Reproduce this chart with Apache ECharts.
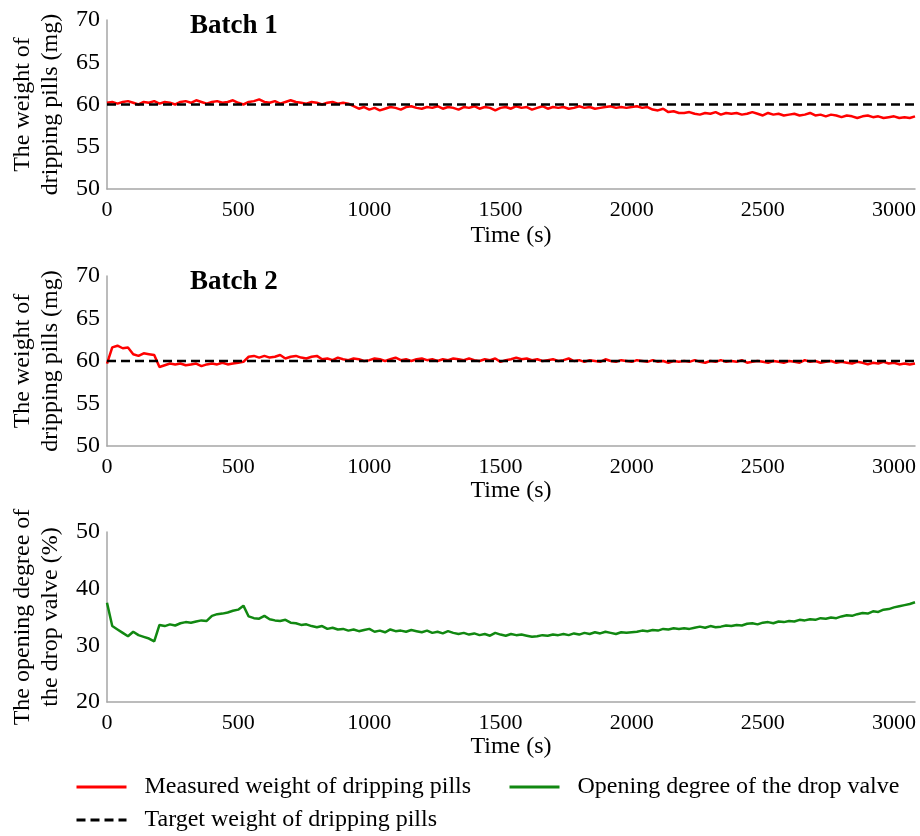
<!DOCTYPE html>
<html>
<head>
<meta charset="utf-8">
<script src="https://cdn.jsdelivr.net/npm/echarts@6/dist/echarts.min.js"></script>
<style>
html,body{margin:0;padding:0;background:#fff;}
#c{width:920px;height:836px;}
</style>
</head>
<body>
<div id="c"></div>
<script>
// sample times (s), every 20 s from 0 to 3080
const TIME_STEP = 20;
const N_SAMPLES = 155;
const TIME = Array.from({length: N_SAMPLES}, (_, i) => i * TIME_STEP);

const TARGET_WEIGHT = 60;

// Batch 1 measured weight (mg)
const BATCH1 = [
  60.2,60.3,60.1,60.3,60.4,60.2,60.0,60.3,60.2,60.4,
  60.1,60.3,60.2,60.0,60.3,60.4,60.2,60.5,60.3,60.1,
  60.3,60.4,60.2,60.3,60.5,60.2,60.0,60.3,60.4,60.6,
  60.3,60.2,60.4,60.1,60.3,60.5,60.3,60.2,60.1,60.3,
  60.2,60.0,60.2,60.3,60.1,60.2,60.1,59.8,59.5,59.7,
  59.4,59.6,59.3,59.5,59.7,59.6,59.4,59.7,59.8,59.6,
  59.5,59.7,59.6,59.8,59.5,59.7,59.6,59.4,59.7,59.6,
  59.8,59.5,59.7,59.6,59.3,59.6,59.7,59.5,59.8,59.6,
  59.7,59.4,59.6,59.8,59.5,59.7,59.6,59.7,59.5,59.6,
  59.8,59.6,59.7,59.5,59.6,59.7,59.8,59.6,59.7,59.6,
  59.7,59.8,59.6,59.7,59.4,59.3,59.5,59.1,59.2,59.0,
  59.0,59.1,58.9,58.8,59.0,58.9,59.1,58.8,59.0,58.9,
  59.0,58.8,58.9,59.1,58.9,58.7,59.0,58.8,58.9,58.7,
  58.8,58.9,58.7,58.8,59.0,58.7,58.8,58.6,58.8,58.7,
  58.5,58.7,58.6,58.4,58.6,58.7,58.5,58.6,58.4,58.5,
  58.6,58.4,58.5,58.4,58.6
];

// Batch 2 measured weight (mg)
const BATCH2 = [
  59.7,61.6,61.8,61.5,61.6,60.8,60.6,60.9,60.8,60.7,
  59.3,59.5,59.7,59.6,59.7,59.5,59.6,59.7,59.4,59.6,
  59.7,59.6,59.8,59.6,59.7,59.8,59.9,60.5,60.6,60.4,
  60.6,60.4,60.5,60.7,60.3,60.5,60.6,60.4,60.3,60.5,
  60.6,60.2,60.3,60.1,60.4,60.2,60.1,60.3,60.2,60.0,
  60.1,60.3,60.2,60.0,60.2,60.4,60.1,60.2,60.0,60.2,
  60.3,60.1,60.2,60.0,60.2,60.1,60.3,60.2,60.1,60.3,
  60.1,60.0,60.2,60.1,60.3,59.9,60.1,60.2,60.4,60.2,
  60.3,60.1,60.2,60.0,60.1,60.2,60.0,60.1,60.3,60.0,
  60.1,59.9,60.1,60.0,59.9,60.2,60.0,59.9,60.1,60.0,
  59.9,60.1,60.0,59.9,60.1,59.9,60.0,59.8,60.0,59.9,
  60.0,59.9,60.1,59.9,59.8,60.0,59.9,60.1,59.9,60.0,
  59.9,60.1,59.8,59.9,60.0,59.9,59.8,60.0,59.9,59.8,
  60.0,59.9,59.8,60.1,59.9,60.0,59.8,59.9,60.0,59.8,
  59.9,59.8,59.7,59.9,59.8,59.6,59.8,59.7,59.9,59.7,
  59.8,59.6,59.7,59.6,59.7
];

// Opening degree of the drop valve (%)
const VALVE = [
  37.5,33.4,32.8,32.2,31.6,32.4,31.8,31.5,31.2,30.7,
  33.6,33.4,33.7,33.5,33.9,34.1,34.0,34.2,34.4,34.3,
  35.2,35.5,35.6,35.8,36.1,36.3,37.0,35.1,34.8,34.7,
  35.2,34.6,34.4,34.3,34.5,34.0,33.9,33.6,33.7,33.4,
  33.2,33.4,32.9,33.1,32.8,32.9,32.6,32.8,32.5,32.7,
  32.9,32.4,32.6,32.3,32.8,32.5,32.6,32.4,32.7,32.5,
  32.3,32.6,32.2,32.4,32.1,32.5,32.2,32.0,32.2,31.9,
  32.1,31.8,32.0,31.7,32.2,31.9,31.7,32.0,31.8,31.9,
  31.7,31.5,31.6,31.8,31.7,31.9,31.8,32.0,31.8,32.1,
  31.9,32.2,32.0,32.3,32.1,32.4,32.2,32.0,32.3,32.2,
  32.3,32.4,32.6,32.5,32.7,32.6,32.9,32.8,33.0,32.9,
  33.0,32.9,33.1,33.3,33.1,33.4,33.2,33.3,33.5,33.4,
  33.6,33.5,33.8,33.9,33.7,34.0,34.1,33.9,34.2,34.1,
  34.3,34.2,34.5,34.4,34.6,34.5,34.8,34.7,34.9,34.8,
  35.1,35.3,35.2,35.5,35.7,35.6,36.0,35.9,36.3,36.4,
  36.7,36.9,37.1,37.3,37.6
];

const X_TICKS = [0, 500, 1000, 1500, 2000, 2500, 3000];
const X_MAX = 3080;
const PANEL_TITLES = ['Batch 1', 'Batch 2'];
const NAME_MEASURED = 'Measured weight of dripping pills';
const NAME_VALVE = 'Opening degree of the drop valve';
const NAME_TARGET = 'Target weight of dripping pills';

const FONT = '"Liberation Serif","Times New Roman",serif';
const AXIS_COLOR = '#a6a6a6';

const pair = (arr) => TIME.map((t, i) => [t, arr[i]]);

function xAxis(idx, gap) {
  return {
    type: 'value', gridIndex: idx, min: 0, max: X_MAX, interval: 500,
    name: 'Time (s)', nameLocation: 'middle', nameGap: gap,
    nameTextStyle: {fontFamily: FONT, fontSize: 24, color: '#000'},
    axisLine: {show: true, lineStyle: {color: AXIS_COLOR, width: 1.5}},
    axisTick: {show: false},
    splitLine: {show: false},
    axisLabel: {fontFamily: FONT, fontSize: 22, color: '#000', margin: 10, showMaxLabel: false,
      formatter: v => X_TICKS.includes(v) ? String(v) : ''}
  };
}
function yAxis(idx, min, max, interval, name) {
  return {
    type: 'value', gridIndex: idx, min, max, interval,
    name, nameLocation: 'middle', nameRotate: 90, nameGap: 41,
    nameTextStyle: {fontFamily: FONT, fontSize: 24, color: '#000', lineHeight: 28},
    axisLine: {show: true, lineStyle: {color: AXIS_COLOR, width: 1.5}},
    axisTick: {show: false},
    splitLine: {show: false},
    axisLabel: {fontFamily: FONT, fontSize: 24, color: '#000', margin: 7}
  };
}
function targetSeries(idx) {
  return {
    name: NAME_TARGET, type: 'line', xAxisIndex: idx, yAxisIndex: idx,
    data: [[0, TARGET_WEIGHT], [X_MAX, TARGET_WEIGHT]],
    symbol: 'none', z: 3,
    lineStyle: {color: '#000', width: 2.5, type: [9, 5]},
    itemStyle: {color: '#000'}
  };
}
function measured(idx, arr) {
  return {
    name: NAME_MEASURED, type: 'line', xAxisIndex: idx, yAxisIndex: idx,
    data: pair(arr), symbol: 'none', z: 2,
    lineStyle: {color: '#ff0000', width: 2.5},
    itemStyle: {color: '#ff0000'}
  };
}

const legendBase = {
  orient: 'horizontal', itemWidth: 50, itemHeight: 14, padding: 0,
  itemStyle: {opacity: 0},
  lineStyle: {width: 3},
  textStyle: {fontFamily: FONT, fontSize: 24, color: '#000', padding: [0, 0, 0, 13]},
  selectedMode: false
};

const chart = echarts.init(document.getElementById('c'), null, {renderer: 'canvas'});
chart.setOption({
  animation: false,
  backgroundColor: '#fff',
  title: [
    {text: PANEL_TITLES[0], left: 190, top: 13, padding: 0, textStyle: {fontFamily: FONT, fontSize: 27, fontWeight: 'bold', color: '#000'}},
    {text: PANEL_TITLES[1], left: 190, top: 269, padding: 0, textStyle: {fontFamily: FONT, fontSize: 27, fontWeight: 'bold', color: '#000'}}
  ],
  grid: [
    {left: 107, right: 5, top: 20, height: 169},
    {left: 107, right: 5, top: 276, height: 170},
    {left: 107, right: 5, top: 532, height: 170}
  ],
  xAxis: [xAxis(0, 35), xAxis(1, 33), xAxis(2, 32)],
  yAxis: [
    yAxis(0, 50, 70, 5, 'The weight of\ndripping pills (mg)'),
    yAxis(1, 50, 70, 5, 'The weight of\ndripping pills (mg)'),
    yAxis(2, 20, 50, 10, 'The opening degree of\nthe drop valve (%)')
  ],
  legend: [
    Object.assign({}, legendBase, {left: 75, top: 775, data: [NAME_MEASURED]}),
    Object.assign({}, legendBase, {left: 508, top: 775, data: [NAME_VALVE]}),
    Object.assign({}, legendBase, {left: 75, top: 808, data: [NAME_TARGET]})
  ],
  series: [
    measured(0, BATCH1),
    targetSeries(0),
    measured(1, BATCH2),
    targetSeries(1),
    {
      name: NAME_VALVE, type: 'line', xAxisIndex: 2, yAxisIndex: 2,
      data: pair(VALVE), symbol: 'none',
      lineStyle: {color: '#118811', width: 2.5},
      itemStyle: {color: '#118811'}
    }
  ]
});
</script>
</body>
</html>
